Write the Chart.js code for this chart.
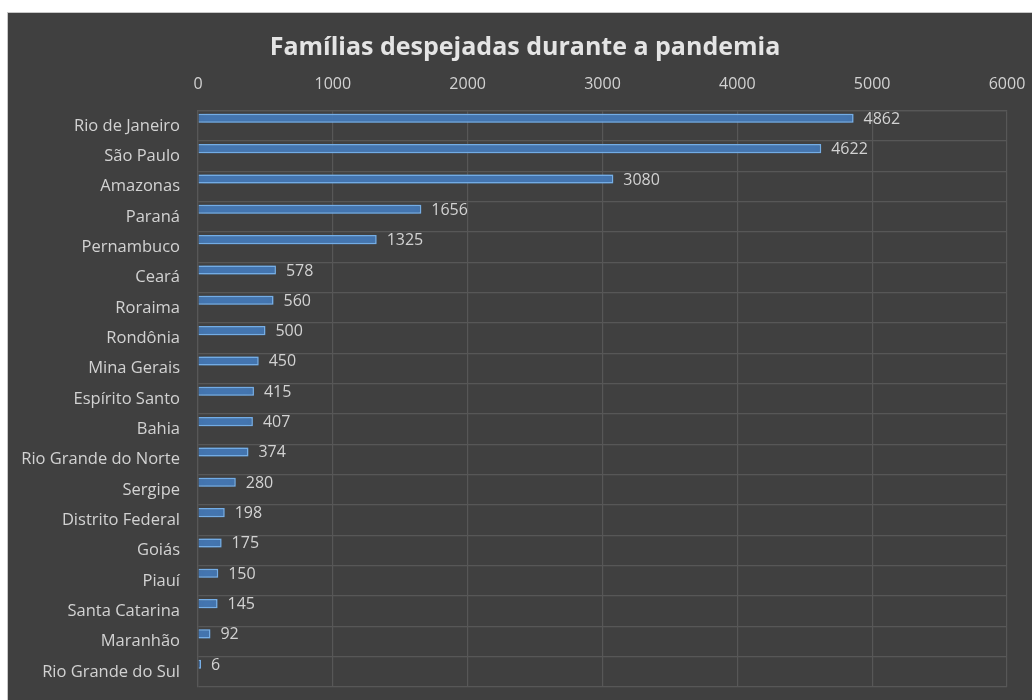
<!DOCTYPE html>
<html>
<head>
<meta charset="utf-8">
<script src="https://cdn.jsdelivr.net/npm/chart.js@4.4.1/dist/chart.umd.min.js"></script>
<style>
  body { margin: 0; background: #ffffff; overflow: hidden; }
  #painel {
    position: absolute; left: 7px; top: 12px;
    width: 1025px; height: 688px;
    background: #404040;
    border-top: 1px solid #c8c8c8;
    border-left: 1px solid #c8c8c8;
    box-sizing: border-box;
  }
  #grafico { display: block; }
  #titulo {
    position: absolute; left: 225px; top: 28px; width: 600px;
    text-align: center; line-height: 30px;
    font: bold 25px 'Open Sans', sans-serif; color: #e4e4e4;
  }
</style>
</head>
<body>
<div id="painel"><canvas id="grafico" width="1024" height="687"></canvas></div>
<div id="titulo">Famílias despejadas durante a pandemia</div>
<script>
// Dados
const estados = [
    'Rio de Janeiro', 'São Paulo', 'Amazonas', 'Paraná', 'Pernambuco',
    'Ceará', 'Roraima', 'Rondônia', 'Mina Gerais', 'Espírito Santo',
    'Bahia', 'Rio Grande do Norte', 'Sergipe', 'Distrito Federal', 'Goiás',
    'Piauí', 'Santa Catarina', 'Maranhão', 'Rio Grande do Sul'
];
const familias = [4862, 4622, 3080, 1656, 1325, 578, 560, 500, 450, 415, 407, 374, 280, 198, 175, 150, 145, 92, 6];
// série vazia (deixa a barra na metade de cima da categoria, como no Excel)
const vazia = estados.map(() => null);

const corTexto = '#d2d2d2';
const corGrade = '#575757';
const fonte = "'Open Sans', sans-serif";

const ctx = document.getElementById('grafico');

new Chart(ctx, {
    type: 'bar',
    data: {
        labels: estados,
        datasets: [{
            data: familias,
            backgroundColor: 'rgba(66, 118, 178, 0.9)',
            borderColor: '#7ab0e6',
            borderWidth: 1.5,
            barPercentage: 0.6,
            categoryPercentage: 1.0,
            minBarLength: 3
        }, {
            data: vazia,
            barPercentage: 0.6,
            categoryPercentage: 1.0
        }]
    },
    options: {
        indexAxis: 'y',
        responsive: false,
        animation: false,
        // o título fica no div #titulo, por cima do canvas
        layout: { padding: { left: 0, right: 25, top: 58, bottom: 13 } },
        plugins: {
            legend: { display: false },
            tooltip: { enabled: false },
            title: { display: false }
        },
        scales: {
            x: {
                position: 'top',
                min: 0,
                max: 6000,
                ticks: {
                    stepSize: 1000,
                    color: corTexto,
                    padding: 17,
                    font: { family: fonte, size: 16 },
                    callback: (v) => String(v)
                },
                grid: { color: corGrade, lineWidth: 1.2, drawTicks: false },
                border: { color: corGrade, width: 1.2 },
                afterFit: (s) => { s.height = 39.7; s.paddingLeft = 0; s.paddingRight = 0; }
            },
            y: {
                ticks: {
                    color: corTexto,
                    padding: 18,
                    font: { family: fonte, size: 16.5 }
                },
                grid: { color: corGrade, lineWidth: 1.2, drawTicks: false, offset: true },
                border: { color: corGrade, width: 1.2 },
                afterFit: (s) => { s.width = 190; s.paddingTop = 0; s.paddingBottom = 0; }
            }
        }
    },
    plugins: [{
        // brilho azul em volta das barras
        id: 'brilho',
        beforeDatasetsDraw: (chart) => {
            const c = chart.ctx;
            c.save();
            c.shadowColor = 'rgba(100, 165, 230, 0.95)';
            c.shadowBlur = 9;
        },
        afterDatasetsDraw: (chart) => {
            chart.ctx.restore();
        }
    }, {
        // valores no fim de cada barra
        id: 'rotulos',
        afterDatasetsDraw: (chart) => {
            const c = chart.ctx;
            const meta = chart.getDatasetMeta(0);
            c.save();
            c.font = "16px " + fonte;
            c.fillStyle = corTexto;
            c.textAlign = 'left';
            c.textBaseline = 'middle';
            meta.data.forEach((barra, i) => {
                c.fillText(String(familias[i]), barra.x + 10, barra.y + 1);
            });
            c.restore();
        }
    }]
});
</script>
</body>
</html>
